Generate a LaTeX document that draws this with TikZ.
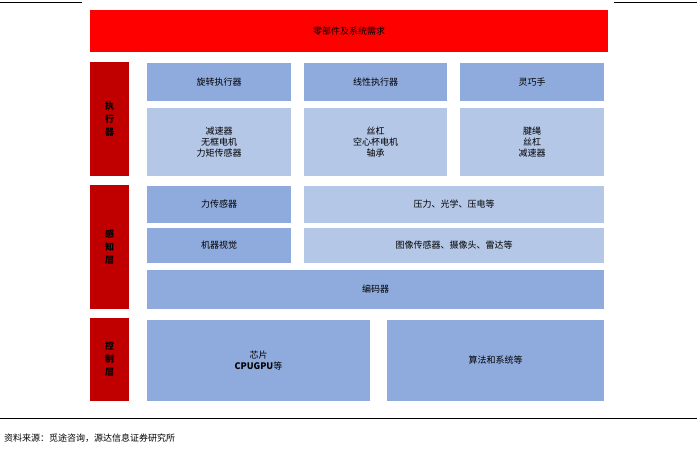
\documentclass[tikz,border=0pt]{standalone}
\usepackage{fontspec}
\setmainfont{Liberation Sans}
\newfontfamily\cjk{Noto Sans CJK SC}
\definecolor{hdred}{HTML}{FF0000}
\definecolor{sidered}{HTML}{C00000}
\definecolor{darkblue}{HTML}{8FAADC}
\definecolor{lightblue}{HTML}{B4C7E7}
\tikzset{
  blk/.style={inner sep=0pt, align=center, font=\cjk\small, text=black},
  side/.style={blk, fill=sidered, minimum width=39pt, font=\cjk\small\bfseries},
  dbox/.style={blk, fill=darkblue},
  lbox/.style={blk, fill=lightblue}
}
\begin{document}
\begin{tikzpicture}[x=1pt,y=-1pt]
        \useasboundingbox (0,0) rectangle (697,453);
        \draw[line width=1pt] (0,2) -- (82,2);
        \draw[line width=1pt] (614,2) -- (697,2);
        \node[blk, fill=hdred, minimum width=518pt, minimum height=42pt] (req) at (349,31) {零部件及系统需求};
        % side labels
        \node[side, minimum height=114pt] (act) at (109.5,119) {执\\[2pt]行\\[2pt]器};
        \node[side, minimum height=124pt] (sen) at (109.5,247) {感\\[2pt]知\\[2pt]层};
        \node[side, minimum height=83pt] (ctl) at (109.5,359.5) {控\\[2pt]制\\[2pt]层};
        % actuators
        \node[dbox, minimum width=144pt, minimum height=38pt] (rot) at (219,82) {旋转执行器};
        \node[dbox, minimum width=143pt, minimum height=38pt] (lin) at (375.5,82) {线性执行器};
        \node[dbox, minimum width=144pt, minimum height=38pt] (hand) at (532,82) {灵巧手};
        \node[lbox, minimum width=144pt, minimum height=68pt] (rotp) at (219,142) {减速器\\无框电机\\力矩传感器};
        \node[lbox, minimum width=143pt, minimum height=68pt] (linp) at (375.5,142) {丝杠\\空心杯电机\\轴承};
        \node[lbox, minimum width=144pt, minimum height=68pt] (handp) at (532,142) {腱绳\\丝杠\\减速器};
        % sensing
        \node[dbox, minimum width=144pt, minimum height=37pt] (force) at (219,204.5) {力传感器};
        \node[lbox, minimum width=300pt, minimum height=37pt] (forcep) at (454,204.5) {压力、光学、压电等};
        \node[dbox, minimum width=144pt, minimum height=35pt] (vis) at (219,245.5) {机器视觉};
        \node[lbox, minimum width=300pt, minimum height=35pt] (visp) at (454,245.5) {图像传感器、摄像头、雷达等};
        \node[dbox, minimum width=457pt, minimum height=39pt] (enc) at (375.5,289.5) {编码器};
        % control
        \node[dbox, minimum width=223pt, minimum height=81pt] (chip) at (258.5,360.5) {芯片\\{\bfseries CPUGPU}等};
        \node[dbox, minimum width=217pt, minimum height=81pt] (algo) at (495.5,360.5) {算法和系统等};
        \draw[line width=1pt] (0,418) -- (697,418);
        \node[anchor=west, inner sep=0pt, font=\cjk\small] (src) at (4,438) {资料来源：觅途咨询，源达信息证券研究所};
\end{tikzpicture}
\end{document}
